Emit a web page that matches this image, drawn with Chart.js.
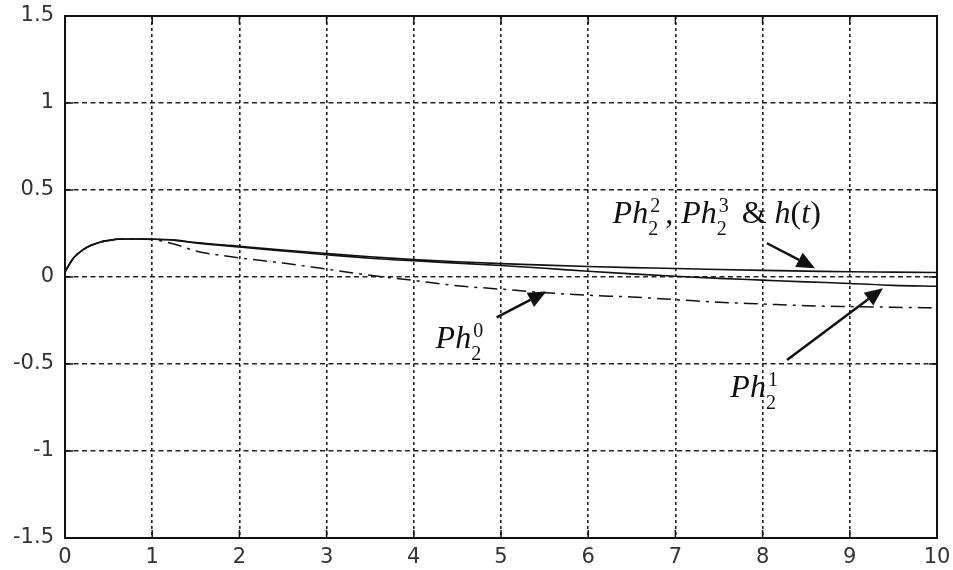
<!DOCTYPE html>
<html>
<head>
<meta charset="utf-8">
<script src="https://cdn.jsdelivr.net/npm/chart.js@4/dist/chart.umd.min.js"></script>
<style>
  html, body { margin: 0; padding: 0; background: #fff; }
  #wrap { width: 953px; height: 570px; position: relative; }
</style>
</head>
<body>
<div id="wrap"><canvas id="plot"></canvas></div>
<script>
// time axis (s)
const t = [0, 0.1, 0.2, 0.3, 0.4, 0.5, 0.6, 0.8, 1.0, 1.25, 1.5, 2, 2.5, 3, 3.5, 4, 4.5, 5, 5.5, 6, 6.5, 7, 7.5, 8, 8.5, 9, 9.5, 10];

// Ph2^2, Ph2^3 & h(t) (they sit on top of each other)
const hGroup = [0.03, 0.11, 0.155, 0.182, 0.2, 0.21, 0.217, 0.218, 0.217, 0.212, 0.198, 0.176, 0.155, 0.135, 0.116, 0.1, 0.088, 0.077, 0.068, 0.06, 0.054, 0.049, 0.043, 0.038, 0.034, 0.03, 0.028, 0.026];
// Ph2^1
const ph21 = [0.03, 0.11, 0.155, 0.182, 0.2, 0.21, 0.217, 0.218, 0.217, 0.212, 0.196, 0.172, 0.15, 0.128, 0.108, 0.093, 0.08, 0.066, 0.05, 0.033, 0.018, 0.004, -0.008, -0.018, -0.028, -0.037, -0.048, -0.053];
// Ph2^0
const ph20 = [0.03, 0.11, 0.155, 0.182, 0.2, 0.21, 0.217, 0.218, 0.215, 0.19, 0.15, 0.11, 0.08, 0.045, 0.01, -0.02, -0.05, -0.07, -0.09, -0.105, -0.115, -0.13, -0.145, -0.155, -0.165, -0.17, -0.174, -0.177];

const xTicks = [0, 1, 2, 3, 4, 5, 6, 7, 8, 9, 10];
const yTicks = [-1.5, -1, -0.5, 0, 0.5, 1, 1.5];

// labels and arrows, in data units
const labels = [
  { x: 6.28, y: 0.31, runs: [{ t: 'Ph', i: true }, { sub: '2', sup: '2' }, { t: ', ' }, { t: 'Ph', i: true }, { sub: '2', sup: '3' }, { t: ' & ' }, { t: 'h', i: true }, { t: '(' }, { t: 't', i: true }, { t: ')' }] },
  { x: 4.25, y: -0.41, runs: [{ t: 'Ph', i: true }, { sub: '2', sup: '0' }] },
  { x: 7.63, y: -0.688, runs: [{ t: 'Ph', i: true }, { sub: '2', sup: '1' }] }
];
const arrows = [
  { x0: 8.05, y0: 0.194, x1: 8.6, y1: 0.05 },
  { x0: 4.95, y0: -0.232, x1: 5.52, y1: -0.084 },
  { x0: 8.28, y0: -0.477, x1: 9.38, y1: -0.065 }
];

function pts(ys) {
  return t.map((v, i) => ({ x: v, y: ys[i] }));
}

const ink = '#111';

const boxAndNotes = {
  id: 'boxAndNotes',
  afterDatasetsDraw(chart) {
    const { ctx, chartArea: a, scales } = chart;
    const sx = scales.x, sy = scales.y;
    ctx.save();
    // inner tick marks
    ctx.strokeStyle = ink;
    ctx.lineWidth = 1.5;
    ctx.setLineDash([]);
    ctx.beginPath();
    xTicks.forEach(v => {
      const px = sx.getPixelForValue(v);
      ctx.moveTo(px, a.bottom); ctx.lineTo(px, a.bottom - 8);
      ctx.moveTo(px, a.top); ctx.lineTo(px, a.top + 8);
    });
    yTicks.forEach(v => {
      const py = sy.getPixelForValue(v);
      ctx.moveTo(a.left, py); ctx.lineTo(a.left + 8, py);
      ctx.moveTo(a.right, py); ctx.lineTo(a.right - 8, py);
    });
    ctx.stroke();
    // box
    ctx.lineWidth = 2;
    ctx.strokeRect(a.left, a.top, a.right - a.left, a.bottom - a.top);

    // arrows
    ctx.fillStyle = ink;
    ctx.lineWidth = 2.5;
    arrows.forEach(ar => {
      const x0 = sx.getPixelForValue(ar.x0), y0 = sy.getPixelForValue(ar.y0);
      const x1 = sx.getPixelForValue(ar.x1), y1 = sy.getPixelForValue(ar.y1);
      const ang = Math.atan2(y1 - y0, x1 - x0);
      const hl = 18, hw = 8;
      const bx = x1 - hl * Math.cos(ang), by = y1 - hl * Math.sin(ang);
      ctx.beginPath();
      ctx.moveTo(x0, y0); ctx.lineTo(bx, by);
      ctx.stroke();
      ctx.beginPath();
      ctx.moveTo(x1, y1);
      ctx.lineTo(bx + hw * Math.sin(ang), by - hw * Math.cos(ang));
      ctx.lineTo(bx - hw * Math.sin(ang), by + hw * Math.cos(ang));
      ctx.closePath();
      ctx.fill();
    });

    // labels
    const size = 32, small = 20;
    ctx.textBaseline = 'alphabetic';
    ctx.textAlign = 'left';
    labels.forEach(lb => {
      let x = sx.getPixelForValue(lb.x);
      const y = sy.getPixelForValue(lb.y);
      lb.runs.forEach(r => {
        if (r.t !== undefined) {
          ctx.font = (r.i ? 'italic ' : '') + size + 'px "Liberation Serif"';
          ctx.fillText(r.t, x, y);
          x += ctx.measureText(r.t).width;
        } else {
          ctx.font = small + 'px "Liberation Serif"';
          ctx.fillText(r.sub, x, y + 12);
          ctx.fillText(r.sup, x + 2, y - 11);
          x += Math.max(ctx.measureText(r.sub).width, ctx.measureText(r.sup).width) + 7;
        }
      });
    });
    ctx.restore();
  }
};

new Chart(document.getElementById('plot'), {
  type: 'line',
  data: {
    datasets: [{
      label: 'Ph2^2, Ph2^3 & h(t)',
      data: pts(hGroup),
      borderColor: ink,
      borderWidth: 1.6,
      pointRadius: 0,
      cubicInterpolationMode: 'monotone'
    }, {
      label: 'Ph2^1',
      data: pts(ph21),
      borderColor: ink,
      borderWidth: 1.6,
      pointRadius: 0,
      cubicInterpolationMode: 'monotone'
    }, {
      label: 'Ph2^0',
      data: pts(ph20),
      borderColor: ink,
      borderWidth: 1.5,
      borderDash: [14, 6, 3, 6],
      pointRadius: 0,
      cubicInterpolationMode: 'monotone'
    }]
  },
  options: {
    responsive: true,
    maintainAspectRatio: false,
    animation: false,
    layout: { padding: { left: 0, top: 16, right: 16, bottom: 0 } },
    plugins: {
      legend: { display: false },
      title: { display: false },
      tooltip: { enabled: false }
    },
    scales: {
      x: {
        type: 'linear',
        min: 0,
        max: 10,
        afterBuildTicks: s => { s.ticks = xTicks.map(v => ({ value: v })); },
        afterFit: s => { s.height = 32; s.paddingLeft = 0; s.paddingRight = 0; },
        grid: { color: '#222', lineWidth: 1.6, drawTicks: false },
        border: { display: false, dash: [3, 3] },
        ticks: { color: '#333', padding: 7, callback: v => String(v), font: { family: 'DejaVu Sans', size: 21 } }
      },
      y: {
        min: -1.5,
        max: 1.5,
        afterBuildTicks: s => { s.ticks = yTicks.map(v => ({ value: v })); },
        afterFit: s => { s.width = 65; s.paddingTop = 0; s.paddingBottom = 0; },
        grid: { color: '#222', lineWidth: 1.6, drawTicks: false },
        border: { display: false, dash: [5, 3.5] },
        ticks: { color: '#333', padding: 11, callback: v => String(v), font: { family: 'DejaVu Sans', size: 21 } }
      }
    }
  },
  plugins: [boxAndNotes]
});
</script>
</body>
</html>
